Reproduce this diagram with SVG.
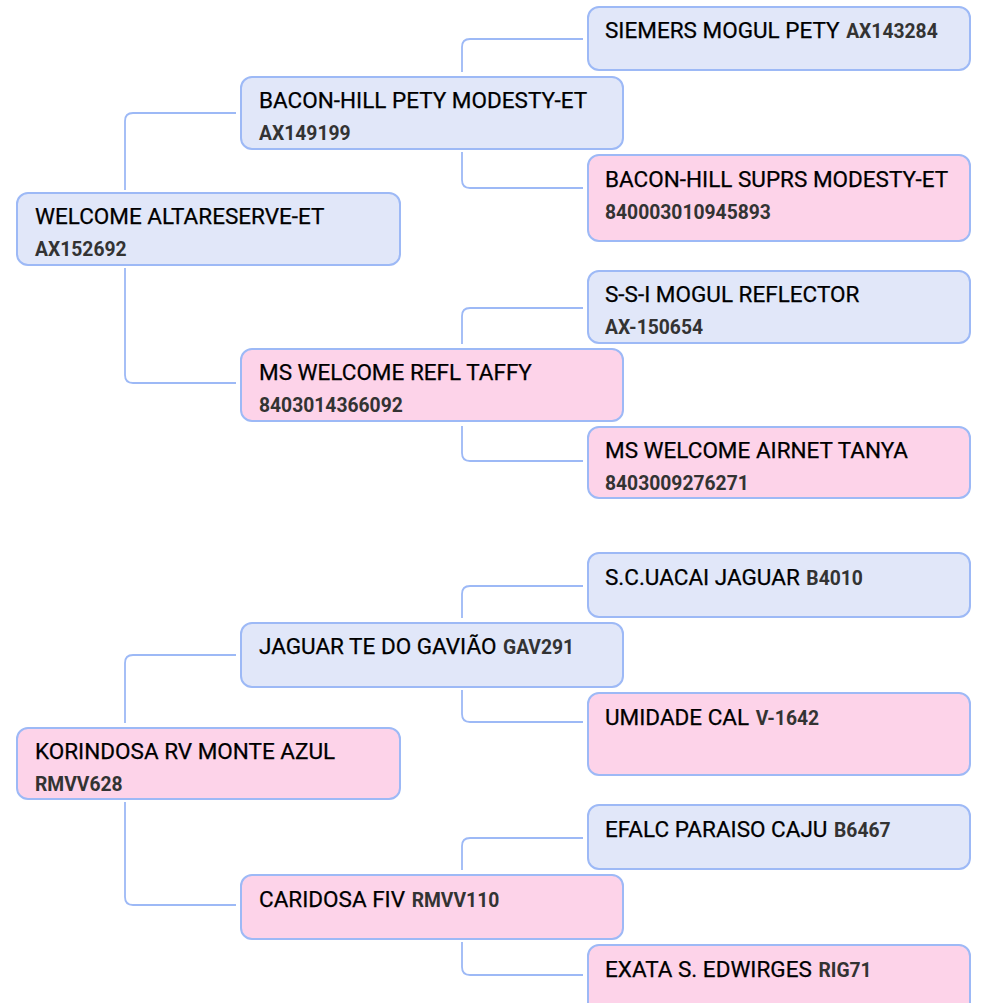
<svg xmlns="http://www.w3.org/2000/svg" width="982" height="1003" viewBox="0 0 982 1003">
<style>
.b{fill:#e1e7f9;stroke:#9db9f6;stroke-width:2}
.p{fill:#fdd3e9;stroke:#9db9f6;stroke-width:2}
.n{font-family:Roboto,"Liberation Sans",sans-serif;font-size:22.5px;font-weight:400;fill:#000;stroke:#000;stroke-width:0.25}
.i{font-family:Roboto,"Liberation Sans",sans-serif;font-size:19.3px;font-weight:bold;fill:#333;stroke:none}
.c{fill:none;stroke:#9db9f6;stroke-width:1.8}
</style>
<rect width="982" height="1003" fill="#fff"/>
<g id="connectors">
<path class="c" d="M125,190 V121 Q125,113 133,113 H236"/>
<path class="c" d="M125,268 V375 Q125,383 133,383 H236"/>
<path class="c" d="M462,72 V47 Q462,39 470,39 H583"/>
<path class="c" d="M462,152 V180 Q462,188 470,188 H583"/>
<path class="c" d="M462,344 V316 Q462,308 470,308 H583"/>
<path class="c" d="M462,426 V453 Q462,461 470,461 H583"/>
<path class="c" d="M125,723 V663 Q125,655 133,655 H236"/>
<path class="c" d="M125,802 V897 Q125,905 133,905 H236"/>
<path class="c" d="M462,618 V594 Q462,586 470,586 H583"/>
<path class="c" d="M462,690 V714 Q462,722 470,722 H583"/>
<path class="c" d="M462,870 V846 Q462,838 470,838 H583"/>
<path class="c" d="M462,942 V967 Q462,975 470,975 H583"/>
</g>
<g id="n1"><rect class="b" x="17" y="193" width="383" height="72" rx="11"/><text class="n" x="35" y="224">WELCOME ALTARESERVE-ET</text><text class="i" x="35" y="256">AX152692</text></g>
<g id="n2"><rect class="b" x="241" y="77" width="382" height="72" rx="11"/><text class="n" x="259" y="108">BACON-HILL PETY MODESTY-ET</text><text class="i" x="259" y="140">AX149199</text></g>
<g id="n3"><rect class="b" x="588" y="7" width="382" height="63" rx="11"/><text class="n" x="605" y="38">SIEMERS MOGUL PETY <tspan class="i" dx="1">AX143284</tspan></text></g>
<g id="n4"><rect class="p" x="588" y="155" width="382" height="86" rx="11"/><text class="n" x="605" y="187">BACON-HILL SUPRS MODESTY-ET</text><text class="i" x="605" y="219">840003010945893</text></g>
<g id="n5"><rect class="b" x="588" y="271" width="382" height="72" rx="11"/><text class="n" x="605" y="302">S-S-I MOGUL REFLECTOR</text><text class="i" x="605" y="334">AX-150654</text></g>
<g id="n6"><rect class="p" x="241" y="349" width="382" height="72" rx="11"/><text class="n" x="259" y="380">MS WELCOME REFL TAFFY</text><text class="i" x="259" y="412">8403014366092</text></g>
<g id="n7"><rect class="p" x="588" y="427" width="382" height="71" rx="11"/><text class="n" x="605" y="458">MS WELCOME AIRNET TANYA</text><text class="i" x="605" y="490">8403009276271</text></g>
<g id="n8"><rect class="b" x="588" y="553" width="382" height="64" rx="11"/><text class="n" x="605" y="585">S.C.UACAI JAGUAR <tspan class="i" dx="1">B4010</tspan></text></g>
<g id="n9"><rect class="b" x="241" y="623" width="382" height="64" rx="11"/><text class="n" x="259" y="654">JAGUAR TE DO GAVIÃO <tspan class="i" dx="1">GAV291</tspan></text></g>
<g id="n10"><rect class="p" x="588" y="693" width="382" height="82" rx="11"/><text class="n" x="605" y="725">UMIDADE CAL <tspan class="i" dx="1">V-1642</tspan></text></g>
<g id="n11"><rect class="p" x="17" y="728" width="383" height="71" rx="11"/><text class="n" x="35" y="759">KORINDOSA RV MONTE AZUL</text><text class="i" x="35" y="791">RMVV628</text></g>
<g id="n12"><rect class="b" x="588" y="805" width="382" height="64" rx="11"/><text class="n" x="605" y="837">EFALC PARAISO CAJU <tspan class="i" dx="1">B6467</tspan></text></g>
<g id="n13"><rect class="p" x="241" y="875" width="382" height="64" rx="11"/><text class="n" x="259" y="907">CARIDOSA FIV <tspan class="i" dx="1">RMVV110</tspan></text></g>
<g id="n14"><rect class="p" x="588" y="945" width="382" height="70" rx="11"/><text class="n" x="605" y="977">EXATA S. EDWIRGES <tspan class="i" dx="1">RIG71</tspan></text></g>
</svg>
